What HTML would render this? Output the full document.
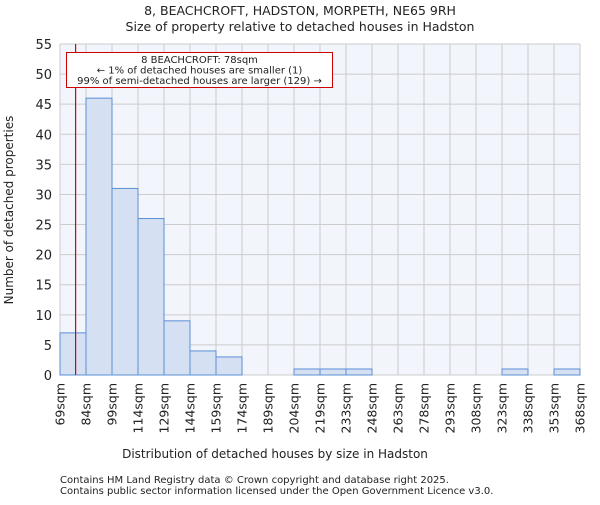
<!DOCTYPE html>
<html><head><meta charset="utf-8"><style>
body{margin:0;background:#fff}
svg text{font-family:"DejaVu Sans","Liberation Sans",sans-serif;fill:#222}
</style></head><body>
<svg id="c" width="600" height="500">
<text x="300" y="15" text-anchor="middle" font-size="12.5">8, BEACHCROFT, HADSTON, MORPETH, NE65 9RH</text>
<text x="300" y="31" text-anchor="middle" font-size="12.5">Size of property relative to detached houses in Hadston</text>
<rect x="60" y="44" width="520" height="331" fill="#f2f5fc"/>
<g id="grid"></g><g id="bars"></g><g id="axes"></g>
<text x="275" y="458" text-anchor="middle" font-size="12">Distribution of detached houses by size in Hadston</text>
<text transform="translate(13,210) rotate(-90)" text-anchor="middle" font-size="12">Number of detached properties</text>
<text x="60" y="483" font-size="10" fill="#444">Contains HM Land Registry data © Crown copyright and database right 2025.</text>
<text x="60" y="494" font-size="10" fill="#444">Contains public sector information licensed under the Open Government Licence v3.0.</text>
</svg>
<script>
const binLabels=["69sqm","84sqm","99sqm","114sqm","129sqm","144sqm","159sqm","174sqm","189sqm","204sqm","219sqm","233sqm","248sqm","263sqm","278sqm","293sqm","308sqm","323sqm","338sqm","353sqm","368sqm"];
const counts=[7,46,31,26,9,4,3,0,0,1,1,1,0,0,0,0,0,1,0,1];
const yTicks=[0,5,10,15,20,25,30,35,40,45,50,55];
const markerValue=78;
const edgeValues=[69,84,99,114,129,144,159,174,189,204,219,233,248,263,278,293,308,323,338,353,368];
const NS="http://www.w3.org/2000/svg";
const X0=60,X1=580,Y0=375,Y1=44,YMAX=55;
const nb=counts.length,bw=(X1-X0)/nb;
const xe=i=>X0+i*bw;
const y=v=>Y0-(v/YMAX)*(Y0-Y1);
function xv(v){for(let i=0;i<edgeValues.length-1;i++){if(v<=edgeValues[i+1])return xe(i)+(v-edgeValues[i])/(edgeValues[i+1]-edgeValues[i])*bw;}return X1;}
function mk(t,a,p){const e=document.createElementNS(NS,t);for(const k in a)e.setAttribute(k,a[k]);p.appendChild(e);return e;}
const grid=document.getElementById('grid'),bars=document.getElementById('bars'),axes=document.getElementById('axes');
yTicks.forEach(t=>{
 const l=mk('line',{x1:X0,x2:X1,y1:y(t),y2:y(t),stroke:'#cccccc','stroke-width':1},grid);
 
 
 const tx=mk('text',{x:X0-8,y:y(t)+5,'text-anchor':'end','font-size':13},axes);
 tx.textContent=t;
 
 
});
binLabels.forEach((s,i)=>{
 const l=mk('line',{x1:xe(i),x2:xe(i),y1:Y1,y2:Y0,stroke:'#cccccc','stroke-width':1},grid);
 
 
 const tx=mk('text',{transform:`translate(${xe(i)+4.5},${Y0+8}) rotate(-90)`,'text-anchor':'end','font-size':12.5},axes);
 tx.textContent=s;
 
 
});
counts.forEach((c,i)=>{
 if(c<=0)return;
 const r=mk('rect',{x:xe(i),y:y(c),width:bw,height:Y0-y(c),fill:'#d6e0f3',stroke:'#5b8fd6','stroke-width':1},bars);
 
 
});
const mx=xv(markerValue);
const ml=mk('line',{x1:mx,x2:mx,y1:Y1,y2:Y0,stroke:'#dd0000','stroke-width':1.2},axes);


const box=mk('rect',{x:66.5,y:52.5,width:266,height:35,fill:'#fff',stroke:'#cc0000','stroke-width':1},axes);


["8 BEACHCROFT: 78sqm","← 1% of detached houses are smaller (1)","99% of semi-detached houses are larger (129) →"].forEach((s,i)=>{
 const t=mk('text',{x:199.5,y:63+i*10.5,'text-anchor':'middle','font-size':10},axes);
 t.textContent=s;
 
 
});
</script>
</body></html>
